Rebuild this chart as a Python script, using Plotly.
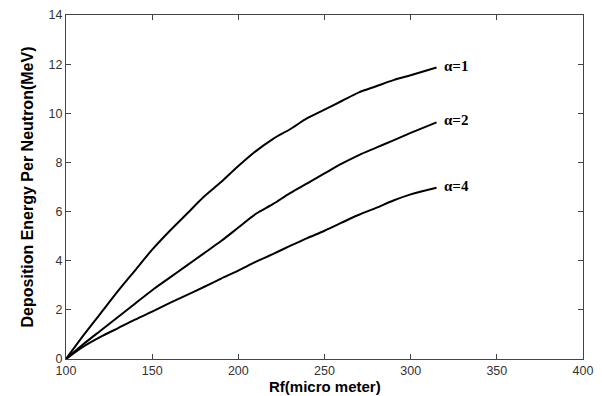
import plotly.graph_objects as go

rf = [100, 110, 120, 130, 140, 150, 160, 170, 180, 190, 200, 210, 220, 230,
      240, 250, 260, 270, 280, 290, 300, 315]
alpha1 = [0, 0.95, 1.85, 2.75, 3.6, 4.45, 5.2, 5.9, 6.6, 7.2, 7.85, 8.45, 8.95,
          9.35, 9.8, 10.15, 10.5, 10.85, 11.1, 11.35, 11.55, 11.86]
alpha2 = [0, 0.6, 1.15, 1.7, 2.25, 2.8, 3.3, 3.8, 4.3, 4.8, 5.35, 5.9, 6.3,
          6.75, 7.15, 7.55, 7.95, 8.3, 8.6, 8.9, 9.2, 9.63]
alpha4 = [0, 0.5, 0.9, 1.25, 1.6, 1.93, 2.27, 2.6, 2.93, 3.27, 3.6, 3.95, 4.27,
          4.6, 4.92, 5.22, 5.55, 5.87, 6.15, 6.45, 6.7, 6.97]
series = [("α=1", alpha1), ("α=2", alpha2), ("α=4", alpha4)]
x_ticks = [100, 150, 200, 250, 300, 350, 400]
y_ticks = [0, 2, 4, 6, 8, 10, 12, 14]
x_title = "Rf(micro meter)"
y_title = "Deposition Energy Per Neutron(MeV)"

fig = go.Figure()
for name, ys in series:
    fig.add_trace(go.Scatter(x=rf, y=ys, mode="lines", name=name,
                             line=dict(color="black", width=2, shape="spline",
                                       smoothing=0.8),
                             showlegend=False))
    fig.add_annotation(x=rf[-1], y=ys[-1], text="<b>" + name + "</b>",
                       showarrow=False, xanchor="left", yanchor="middle",
                       xshift=5, yshift=2,
                       font=dict(family="Liberation Serif", size=15, color="black"))

fig.add_annotation(xref="paper", yref="paper", x=0.5, y=-0.052,
                   text="<b>" + x_title + "</b>", showarrow=False,
                   xanchor="center", yanchor="top", borderpad=0,
                   font=dict(family="Liberation Sans", size=15, color="black"))

axis_common = dict(showline=True, linecolor="#444", linewidth=1, mirror="ticks",
                   ticks="inside", ticklen=5, tickcolor="#444", showgrid=False,
                   zeroline=False, automargin=False,
                   tickfont=dict(family="Liberation Sans", size=12.5, color="#333"))
fig.update_xaxes(range=[100, 400], tickvals=x_ticks, ticklabelstandoff=0,
                 **axis_common)
fig.update_yaxes(range=[0, 14], tickvals=y_ticks,
                 title=dict(text="<b>" + y_title + "</b>", standoff=10,
                            font=dict(family="Liberation Sans", size=16, color="black")),
                 **axis_common)
fig.update_layout(width=602, height=396, margin=dict(l=66, r=19, t=15, b=37),
                  plot_bgcolor="white", paper_bgcolor="white")
fig.write_html("out.html")
